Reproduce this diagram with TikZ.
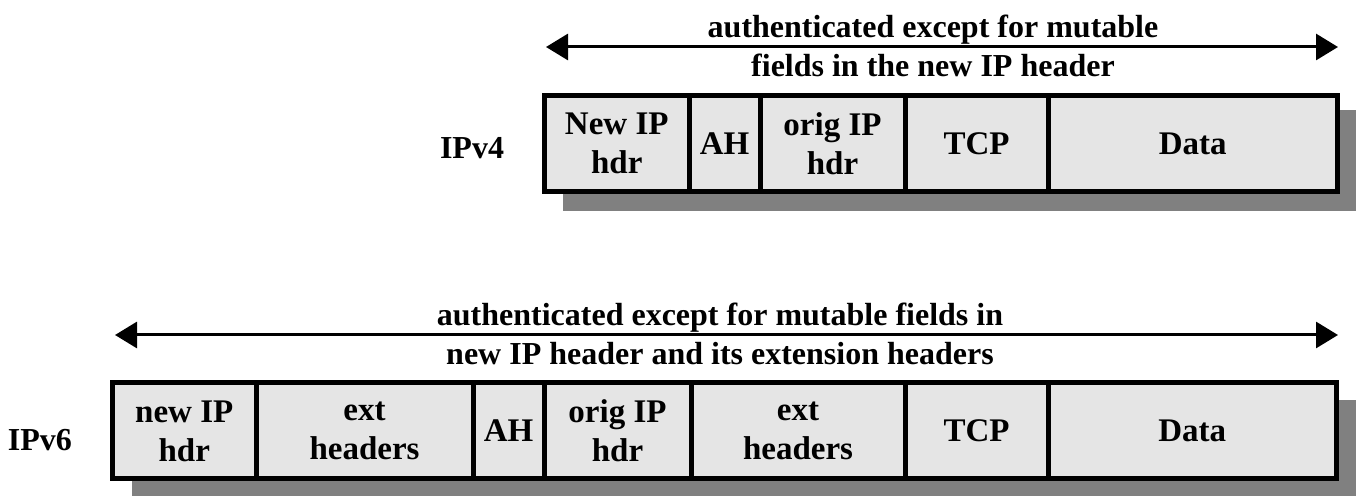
\documentclass[tikz,border=0pt]{standalone}
\usepackage{fontspec}
\setmainfont{Liberation Serif}
\usetikzlibrary{arrows.meta}

\begin{document}
\begin{tikzpicture}[x=0.5pt,y=-0.5pt,
	font=\fontsize{16pt}{19.5pt}\selectfont\bfseries,
	cell/.style={draw=black,line width=2.5pt,fill=black!10,inner sep=0pt,align=center,minimum height=48pt,
		font=\fontsize{16.5pt}{19.5pt}\selectfont\bfseries},
	shade/.style={fill=black!50},
	span/.style={{Triangle[length=11pt,width=13pt]}-{Triangle[length=11pt,width=13pt]},line width=1.5pt}]
	\useasboundingbox (0,0) rectangle (1360,496);
	% Shadows
	\fill[shade] (563,110) rectangle (1356,211);
	\fill[shade] (132,400) rectangle (1356,497);
	% IPv4 nodes
	\node (ipv4) at (472,148) {IPv4};
	\node[cell,minimum width=72.25pt] (newip4) at (616.75,143.5) {New IP\\hdr};
	\node[cell,minimum width=35.5pt] (ah4) at (724.5,143.5) {AH};
	\node[cell,minimum width=72.5pt] (origip4) at (832.5,143.5) {orig IP\\hdr};
	\node[cell,minimum width=71.5pt] (tcp4) at (976.5,143.5) {TCP};
	\node[cell,minimum width=144.75pt] (data4) at (1192.75,143.5) {Data};
	% IPv6 nodes
	\node (ipv6) at (40,440) {IPv6};
	\node[cell,minimum width=71.75pt] (newip6) at (184.25,431) {new IP\\hdr};
	\node[cell,minimum width=108.5pt] (ext6a) at (364.5,431) {ext\\headers};
	\node[cell,minimum width=35.5pt] (ah6) at (508.5,431) {AH};
	\node[cell,minimum width=73.5pt] (origip6) at (617.5,431) {orig IP\\hdr};
	\node[cell,minimum width=107pt] (ext6b) at (798,431) {ext\\headers};
	\node[cell,minimum width=71.5pt] (tcp6) at (976.5,431) {TCP};
	\node[cell,minimum width=144.25pt] (data6) at (1192.25,431) {Data};
	% Edges
	\coordinate (v4left) at (546,47);
	\coordinate (v4right) at (1338,47);
	\draw[span] (v4left) -- (v4right);
	\node[align=center] (auth4) at (933,46) {authenticated except for mutable\\fields in the new IP header};
	\coordinate (v6left) at (115,335);
	\coordinate (v6right) at (1338,335);
	\draw[span] (v6left) -- (v6right);
	\node[align=center] (auth6) at (720,334) {authenticated except for mutable fields in\\new IP header and its extension headers};
\end{tikzpicture}
\end{document}
